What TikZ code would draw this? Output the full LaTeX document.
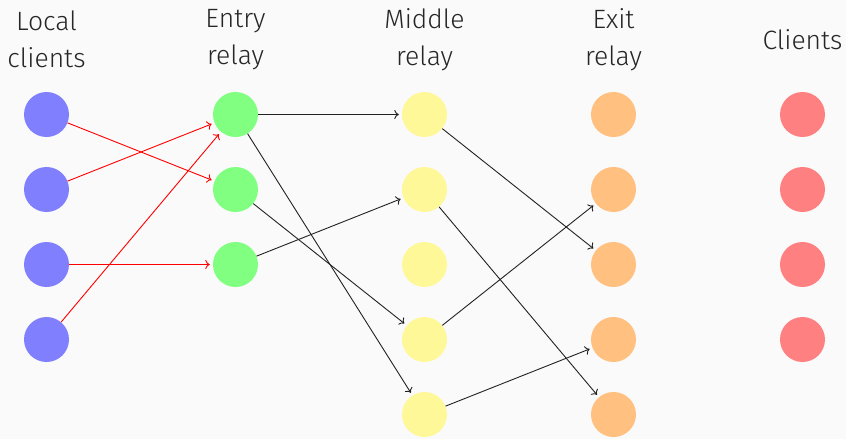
\documentclass[tikz,border=0pt]{standalone}
\usepackage{fontspec}
\setmainfont{Fira Sans Light}
\usepackage{tikz}
\usetikzlibrary{matrix,arrows.meta}

\definecolor{bgcol}{RGB}{250,250,250}
\definecolor{loccol}{RGB}{128,128,255}
\definecolor{entcol}{RGB}{128,255,128}
\definecolor{midcol}{RGB}{255,248,153}
\definecolor{extcol}{RGB}{255,192,128}
\definecolor{clicol}{RGB}{255,128,128}
\definecolor{linkcol}{RGB}{34,34,34}

\begin{document}
\begin{tikzpicture}[
    hop/.style={circle,minimum size=45pt,inner sep=0pt},
    lbl/.style={align=center,text=black!85,font=\fontsize{26.5}{37}\selectfont},
    loc/.style={hop,fill=loccol},
    ent/.style={hop,fill=entcol},
    mid/.style={hop,fill=midcol},
    ext/.style={hop,fill=extcol},
    cli/.style={hop,fill=clicol},
    link/.style={-{To[length=4.5pt,width=9pt]},line width=0.9pt,shorten >=3pt}]
  \fill[bgcol] (0,0) rectangle (846pt,-439pt);
  \useasboundingbox (0,0) rectangle (846pt,-439pt);
  \matrix (m) [matrix of nodes,nodes={anchor=center},
    column sep={189pt,between origins},row sep={75pt,between origins}]
    at (424.5pt,-264.5pt)
  {
     |[loc]| & |[ent]| & |[mid]| & |[ext]| & |[cli]| \\
     |[loc]| & |[ent]| & |[mid]| & |[ext]| & |[cli]| \\
     |[loc]| & |[ent]| & |[mid]| & |[ext]| & |[cli]| \\
     |[loc]| &         & |[mid]| & |[ext]| & |[cli]| \\
             &         & |[mid]| & |[ext]| &         \\};
  \node[lbl] (loclbl) at ([yshift=75pt]m-1-1.center) {Local\\clients};
  \node[lbl] (entlbl) at ([yshift=75pt]m-1-2.center) {Entry\\relay};
  \node[lbl] (midlbl) at ([yshift=75pt]m-1-3.center) {Middle\\relay};
  \node[lbl] (extlbl) at ([yshift=75pt]m-1-4.center) {Exit\\relay};
  \node[lbl] (clilbl) at ([yshift=75pt]m-1-5.center) {Clients};
  % local clients to entry relays
  \draw[link,red] (m-1-1) -- (m-2-2);
  \draw[link,red] (m-2-1) -- (m-1-2);
  \draw[link,red] (m-3-1) -- (m-3-2);
  \draw[link,red] (m-4-1) -- (m-1-2);
  % entry to middle to exit
  \draw[link,linkcol] (m-1-2) -- (m-1-3);
  \draw[link,linkcol] (m-1-2) -- (m-5-3);
  \draw[link,linkcol] (m-2-2) -- (m-4-3);
  \draw[link,linkcol] (m-3-2) -- (m-2-3);
  \draw[link,linkcol] (m-1-3) -- (m-3-4);
  \draw[link,linkcol] (m-2-3) -- (m-5-4);
  \draw[link,linkcol] (m-4-3) -- (m-2-4);
  \draw[link,linkcol] (m-5-3) -- (m-4-4);
\end{tikzpicture}
\end{document}
